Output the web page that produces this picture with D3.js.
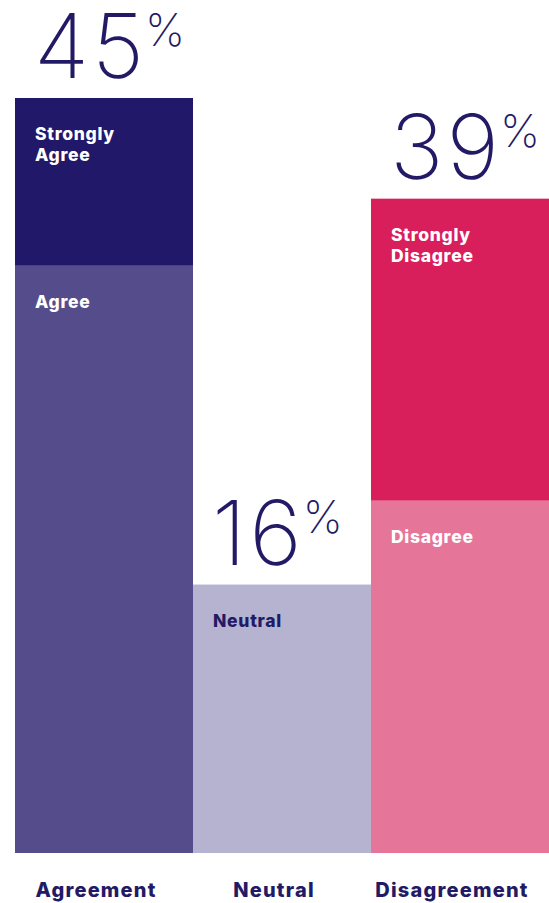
<!DOCTYPE html>
<html>
<head>
<meta charset="utf-8">
<script src="https://cdn.jsdelivr.net/npm/d3@7"></script>
<style>
  html, body { margin: 0; padding: 0; background: #ffffff; }
  svg { display: block; }
</style>
</head>
<body>
<svg id="chart" width="549" height="903"></svg>
<script>
// Response groups along the x axis
const categories = ["Agreement", "Neutral", "Disagreement"];
// Stacked segments (bottom to top) per group, in percent
const segmentLabels = [
  ["Agree", "Strongly Agree"],
  ["Neutral"],
  ["Disagree", "Strongly Disagree"]
];
const segmentValues = [
  [35, 10],
  [16],
  [21, 18]
];
const segmentColors = [
  ["#554c8c", "#211869"],
  ["#b5b3cf"],
  ["#e67699", "#d81e5b"]
];
const segmentTextColors = [
  ["#ffffff", "#ffffff"],
  ["#231a66"],
  ["#ffffff", "#ffffff"]
];

const navy = "#231a66";
const svg = d3.select("#chart");
const W = 549, baseY = 853;

const x = d3.scaleBand().domain(categories).range([15, W]).padding(0);
const y = d3.scaleLinear().domain([0, 45]).range([baseY, 98]);

const groups = svg.selectAll("g.cat")
  .data(categories)
  .join("g")
  .attr("class", "cat");

groups.each(function (cat, i) {
  const g = d3.select(this);
  const vals = segmentValues[i];
  let cum = 0;
  const segs = vals.map((v, j) => {
    const s = { y0: cum, y1: cum + v, label: segmentLabels[i][j],
                fill: segmentColors[i][j], text: segmentTextColors[i][j] };
    cum += v;
    return s;
  });
  const total = cum;

  g.selectAll("rect")
    .data(segs)
    .join("rect")
    .attr("x", x(cat))
    .attr("width", x.bandwidth())
    .attr("y", d => y(d.y1))
    .attr("height", d => y(d.y0) - y(d.y1))
    .attr("fill", d => d.fill);

  // Segment captions, wrapped on spaces
  segs.forEach(d => {
    const words = d.label.split(" ");
    const t = g.append("text")
      .attr("x", x(cat) + 20)
      .attr("y", y(d.y1) + 42)
      .attr("fill", d.text)
      .style("font-family", "Inter, 'Open Sans', sans-serif")
      .style("font-weight", 800)
      .style("font-size", "17.5px")
      .style("letter-spacing", "0.7px");
    words.forEach((w, k) => {
      t.append("tspan")
        .attr("x", x(cat) + 20)
        .attr("dy", k === 0 ? 0 : 21)
        .text(w);
    });
  });

  // Total percentage above the stack
  const big = g.append("text")
    .attr("x", x(cat) + 19)
    .attr("y", y(total) - 20)
    .attr("fill", navy)
    .style("font-family", "Inter, Lato, 'Open Sans', sans-serif")
    .style("font-weight", 200)
    .style("font-size", "90px")
    .style("letter-spacing", "3px")
    .text(total);
  const bb = big.node().getBBox();
  g.append("text")
    .attr("x", bb.x + bb.width - 2)
    .attr("y", y(total) - 52)
    .attr("fill", navy)
    .style("font-family", "Inter, Lato, 'Open Sans', sans-serif")
    .style("font-weight", 200)
    .style("font-size", "45px")
    .text("%");
});

// Category axis labels under the bars
svg.append("g")
  .selectAll("text")
  .data(categories)
  .join("text")
  .attr("x", d => x(d) + x.bandwidth() / 2 - 8)
  .attr("y", 897)
  .attr("text-anchor", "middle")
  .attr("fill", navy)
  .style("font-family", "Inter, 'Open Sans', sans-serif")
  .style("font-weight", 800)
  .style("font-size", "20px")
  .style("letter-spacing", "1.2px")
  .text(d => d);
</script>
</body>
</html>
